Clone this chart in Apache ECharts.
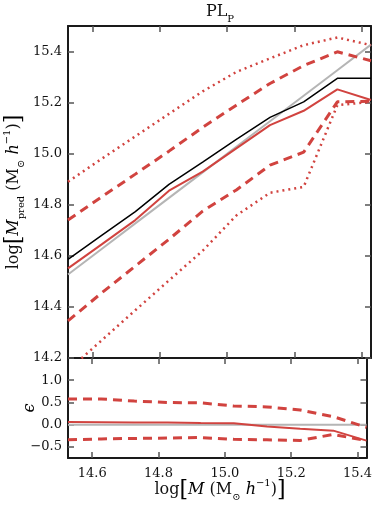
<!DOCTYPE html>
<html>
<head>
<meta charset="utf-8">
<script src="https://cdn.jsdelivr.net/npm/echarts@6/dist/echarts.min.js"></script>
<style>
html,body{margin:0;padding:0;background:#fff;}
#c{width:375px;height:505px;}
</style>
</head>
<body>
<div id="c"></div>
<script>
// ---- data ----
const massX = [14.527, 14.627, 14.727, 14.827, 14.927, 15.027, 15.127, 15.227, 15.327, 15.427];
const identity = [14.527, 14.627, 14.727, 14.827, 14.927, 15.027, 15.127, 15.227, 15.327, 15.427];
const trueMedian = [14.586, 14.68, 14.773, 14.88, 14.967, 15.056, 15.142, 15.203, 15.295, 15.295];
const predMedian = [14.551, 14.645, 14.74, 14.855, 14.93, 15.021, 15.112, 15.168, 15.252, 15.21];
const pred1Upper = [14.74, 14.831, 14.92, 15.01, 15.103, 15.19, 15.275, 15.345, 15.399, 15.364];
const pred1Lower = [14.345, 14.455, 14.56, 14.665, 14.775, 14.858, 14.955, 15.006, 15.203, 15.205];
const pred2Upper = [14.89, 14.98, 15.068, 15.156, 15.244, 15.32, 15.373, 15.425, 15.455, 15.425];
const pred2Lower = [14.152, 14.269, 14.387, 14.504, 14.62, 14.758, 14.847, 14.87, 15.19, 15.203];
const resZero = [0, 0, 0, 0, 0, 0, 0, 0, 0, 0];
const resMedian = [0.06, 0.055, 0.05, 0.05, 0.035, 0.03, -0.04, -0.09, -0.135, -0.36];
const resUpper = [0.58, 0.58, 0.53, 0.50, 0.49, 0.42, 0.40, 0.33, 0.18, -0.06];
const resLower = [-0.34, -0.32, -0.31, -0.30, -0.29, -0.33, -0.34, -0.355, -0.22, -0.36];
const xTicks = [14.6, 14.8, 15.0, 15.2, 15.4];
const yTicksMain = [14.2, 14.4, 14.6, 14.8, 15.0, 15.2, 15.4];
const yTicksRes = [-0.5, 0.0, 0.5, 1.0];

// ---- styling ----
const RED = '#d1433f';
const SERIF = 'DejaVu Serif';
const pairs = ys => massX.map((x, i) => [x, ys[i]]);
const fmt = v => (v < 0 ? '\u2212' : '') + Math.abs(v).toFixed(1);

function xAx(grid, pos, labels) {
  return {
    type: 'value', gridIndex: grid, position: pos,
    min: massX[0], max: massX[massX.length - 1],
    axisLine: { show: true, onZero: false, lineStyle: { color: '#1a1a1a', width: 2 } },
    axisTick: { show: true, inside: true, length: 6, customValues: xTicks, lineStyle: { color: '#555', width: 1.5 } },
    axisLabel: { show: labels, customValues: xTicks, formatter: fmt, fontFamily: SERIF, fontSize: 13, color: '#111', margin: 9 },
    splitLine: { show: false }
  };
}
function yAx(grid, pos, labels, mn, mx, ticks) {
  return {
    type: 'value', gridIndex: grid, position: pos, min: mn, max: mx,
    axisLine: { show: true, onZero: false, lineStyle: { color: '#1a1a1a', width: 2 } },
    axisTick: { show: true, inside: true, length: 6, customValues: ticks, lineStyle: { color: '#555', width: 1.5 } },
    axisLabel: { show: labels, customValues: ticks, formatter: fmt, fontFamily: SERIF, fontSize: 13, color: '#111', margin: 6 },
    splitLine: { show: false }
  };
}
function line(name, data, xi, yi, color, width, type, z) {
  return {
    name, type: 'line', xAxisIndex: xi, yAxisIndex: yi, data: pairs(data),
    showSymbol: false, symbol: 'none', clip: true, z: z || 2,
    lineStyle: { color, width, type, cap: 'butt' }
  };
}

const rich = {
  n: { fontFamily: SERIF, fontSize: 16, lineHeight: 24, fill: '#111', color: '#111' },
  br: { fontFamily: SERIF, fontSize: 22, lineHeight: 24, color: '#111' },
  it: { fontFamily: SERIF, fontStyle: 'italic', fontSize: 16, lineHeight: 24, color: '#111' },
  sub: { fontFamily: SERIF, fontSize: 10, lineHeight: 13, verticalAlign: 'bottom', color: '#111' },
  sup: { fontFamily: SERIF, fontSize: 10, lineHeight: 13, verticalAlign: 'top', color: '#111' }
};

const chart = echarts.init(document.getElementById('c'), null, { renderer: 'canvas' });
chart.setOption({
  animation: false,
  backgroundColor: '#fff',
  grid: [
    { left: 68, top: 26, width: 303, height: 332 },
    { left: 68, top: 358, width: 303, height: 100 }
  ],
  xAxis: [xAx(0, 'bottom', false), xAx(0, 'top', false), xAx(1, 'bottom', true), xAx(1, 'top', false)],
  yAxis: [
    yAx(0, 'left', true, 14.2, 15.5, yTicksMain), yAx(0, 'right', false, 14.2, 15.5, yTicksMain),
    yAx(1, 'left', true, -0.75, 1.5, yTicksRes), yAx(1, 'right', false, -0.75, 1.5, yTicksRes)
  ],
  series: [
    line('identity', identity, 0, 0, '#b5b5b5', 2, 'solid', 1),
    line('true', trueMedian, 0, 0, '#000', 1.5, 'solid', 3),
    line('median', predMedian, 0, 0, RED, 2, 'solid', 4),
    line('up1', pred1Upper, 0, 0, RED, 3, [9, 6], 2),
    line('lo1', pred1Lower, 0, 0, RED, 3, [9, 6], 2),
    line('up2', pred2Upper, 0, 0, RED, 2.5, [2, 4], 2),
    line('lo2', pred2Lower, 0, 0, RED, 2.5, [2, 4], 2),
    line('rzero', resZero, 2, 2, '#b5b5b5', 2, 'solid', 1),
    line('rmed', resMedian, 2, 2, RED, 2, 'solid', 3),
    line('rup', resUpper, 2, 2, RED, 3, [9, 6], 2),
    line('rlo', resLower, 2, 2, RED, 3, [9, 6], 2)
  ],
  graphic: [
    { type: 'text', x: 220, y: 12, style: {
      text: '{n|PL}{sub|P}', rich, align: 'center', verticalAlign: 'middle', textAlign: 'center', textVerticalAlign: 'middle' } },
    { type: 'text', x: 14, y: 192, rotation: Math.PI / 2, style: {
      text: '{n|log}{br|[}{it|M}{sub|pred}{n| (M}{sub|\u2299}{n| }{it|h}{sup|\u22121}{n|)}{br|]}',
      rich, align: 'center', verticalAlign: 'middle', textAlign: 'center', textVerticalAlign: 'middle' } },
    { type: 'text', x: 220, y: 490, style: {
      text: '{n|log}{br|[}{it|M}{n| (M}{sub|\u2299}{n| }{it|h}{sup|\u22121}{n|)}{br|]}',
      rich, align: 'center', verticalAlign: 'middle', textAlign: 'center', textVerticalAlign: 'middle' } },
    { type: 'text', x: 30, y: 408, rotation: Math.PI / 2, style: {
      text: '{it|\u03f5}', rich, align: 'center', verticalAlign: 'middle', textAlign: 'center', textVerticalAlign: 'middle' } }
  ]
});
</script>
</body>
</html>
